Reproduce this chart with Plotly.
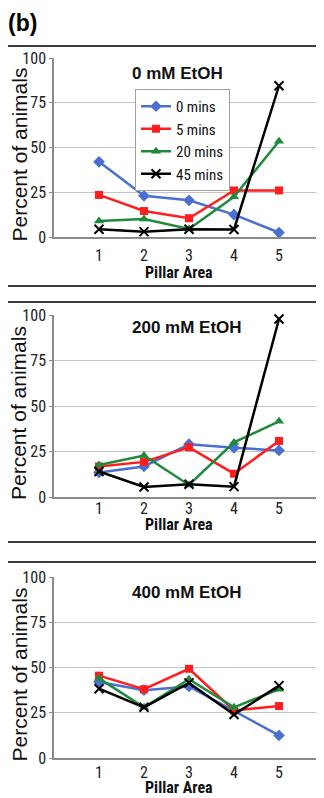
import plotly.graph_objects as go

pillar_areas = [1, 2, 3, 4, 5]
series_names = ["0 mins", "5 mins", "20 mins", "45 mins"]
panel_titles = ["0 mM EtOH", "200 mM EtOH", "400 mM EtOH"]

etoh0_min0 = [42, 23, 20.5, 12.5, 2.5]
etoh0_min5 = [23.5, 14.5, 10.5, 26, 26]
etoh0_min20 = [9, 10, 4.5, 22.5, 53.5]
etoh0_min45 = [4.3, 3, 4.3, 4.2, 84.5]

etoh200_min0 = [13.5, 16.8, 29, 27, 25.6]
etoh200_min5 = [16.8, 19.3, 27.3, 12.8, 30.8]
etoh200_min20 = [17.6, 22.8, 6.6, 30, 41.6]
etoh200_min45 = [14, 5.5, 7, 5.7, 97.8]

etoh400_min0 = [42, 37.5, 39.5, 25.8, 12.5]
etoh400_min5 = [45.5, 38, 49.3, 26.3, 28.7]
etoh400_min20 = [44, 28, 43.5, 28, 38]
etoh400_min45 = [38.3, 28, 41.5, 24, 40]

panels = [
    [etoh0_min0, etoh0_min5, etoh0_min20, etoh0_min45],
    [etoh200_min0, etoh200_min5, etoh200_min20, etoh200_min45],
    [etoh400_min0, etoh400_min5, etoh400_min20, etoh400_min45],
]

OFF = 8  # page body margin
W, H = 324 - OFF, 798 - OFF
NARROW = "Roboto Condensed, Liberation Sans Narrow, Arial Narrow, Liberation Sans, sans-serif"
ARIAL = "Liberation Sans, Arial, sans-serif"

colors = ["#4a6fd0", "#ff1e1e", "#1e8a3c", "#000000"]
symbols = ["diamond", "square", "triangle-up", "x-thin"]
msizes = [9, 8, 9, 9]

# pixel layout (screen px) of each panel:
# (y of 0, y of 100, box top, box bottom, title y, xlabel y, x tick label standoff)
geom = [
    (237, 58, 46, 286, 73, 272, 3),
    (497, 315, 302, 542, 328, 524, -4),
    (758, 577, 562, 860, 592, 787, -1),
]

def fy(py):
    return 1 - (py - OFF) / H

def fx(px):
    return (px - OFF) / W

fig = go.Figure()
shapes = []
annotations = []

for i, (series, g) in enumerate(zip(panels, geom)):
    y0px, y100px, btop, bbot, ty, xly, xstand = g
    xa = "x" if i == 0 else f"x{i+1}"
    ya = "y" if i == 0 else f"y{i+1}"
    for k, vals in enumerate(series):
        marker = dict(symbol=symbols[k], size=msizes[k], color=colors[k])
        if symbols[k] == "x-thin":
            marker["line"] = dict(color=colors[k], width=2)
        fig.add_trace(go.Scatter(
            x=pillar_areas, y=vals, mode="lines+markers",
            name=series_names[k], xaxis=xa, yaxis=ya,
            line=dict(color=colors[k], width=2.5),
            marker=marker, showlegend=(i == 0), cliponaxis=False,
        ))
    xkey = "xaxis" if i == 0 else f"xaxis{i+1}"
    ykey = "yaxis" if i == 0 else f"yaxis{i+1}"
    fig.layout[xkey] = dict(
        domain=[fx(54), 1.0], range=[0, 6 * (W - (54 - OFF)) / (324 - 54)], anchor=ya, automargin=False,
        tickvals=pillar_areas, ticktext=[str(v) for v in pillar_areas],
        showgrid=False, zeroline=False, showline=True, linecolor="#8a8a8a", linewidth=1.5,
        ticks="", tickfont=dict(family=NARROW, size=16, color="#222"),
        ticklabelstandoff=xstand, fixedrange=True,
    )
    fig.layout[ykey] = dict(
        domain=[fy(y0px), fy(y100px)], range=[0, 100], anchor=xa, automargin=False,
        tickvals=[0, 25, 50, 75, 100],
        showgrid=True, gridcolor="#c4c4c4", gridwidth=1,
        zeroline=False, showline=True, linecolor="#8a8a8a", linewidth=1.5,
        ticks="outside", ticklen=3, tickcolor="#8a8a8a",
        tickfont=dict(family=NARROW, size=16, color="#222"),
        ticklabelstandoff=0, fixedrange=True,
    )
    shapes.append(dict(type="rect", xref="paper", yref="paper",
                       x0=fx(4.5), x1=1.05, y0=fy(bbot), y1=fy(btop),
                       line=dict(color="#3c3c3c", width=2), layer="below"))
    annotations.append(dict(text=f"<b>{panel_titles[i]}</b>", xref="paper", yref="paper",
                            x=fx(130), y=fy(ty), xanchor="left", yanchor="middle",
                            showarrow=False, font=dict(family=ARIAL, size=17, color="#111")))
    annotations.append(dict(text="<b>Pillar Area</b>", xref="paper", yref="paper",
                            x=fx(179), y=fy(xly), xanchor="center", yanchor="middle",
                            showarrow=False, font=dict(family=NARROW, size=16, color="#111")))
    annotations.append(dict(text="Percent of animals", xref="paper", yref="paper",
                            x=fx(19), y=fy((y0px + y100px) / 2 + 7), xanchor="center", yanchor="middle",
                            textangle=-90, showarrow=False,
                            font=dict(family=ARIAL, size=21, color="#111")))

annotations.append(dict(text="<b>(b)</b>", xref="paper", yref="paper",
                        x=fx(6), y=fy(23), xanchor="left", yanchor="middle",
                        showarrow=False, font=dict(family=ARIAL, size=23, color="#000")))

fig.update_layout(
    template="none",
    width=W, height=H, autosize=False,
    margin=dict(l=0, r=0, t=0, b=0, pad=0, autoexpand=False),
    paper_bgcolor="white", plot_bgcolor="white",
    shapes=shapes, annotations=annotations,
    legend=dict(x=fx(135), y=fy(89), xanchor="left", yanchor="top",
                bordercolor="#a0a0a0", borderwidth=1, bgcolor="white",
                font=dict(family=NARROW, size=15, color="#111"),
                itemwidth=30, tracegroupgap=0),
)

fig.write_html("out.html")
